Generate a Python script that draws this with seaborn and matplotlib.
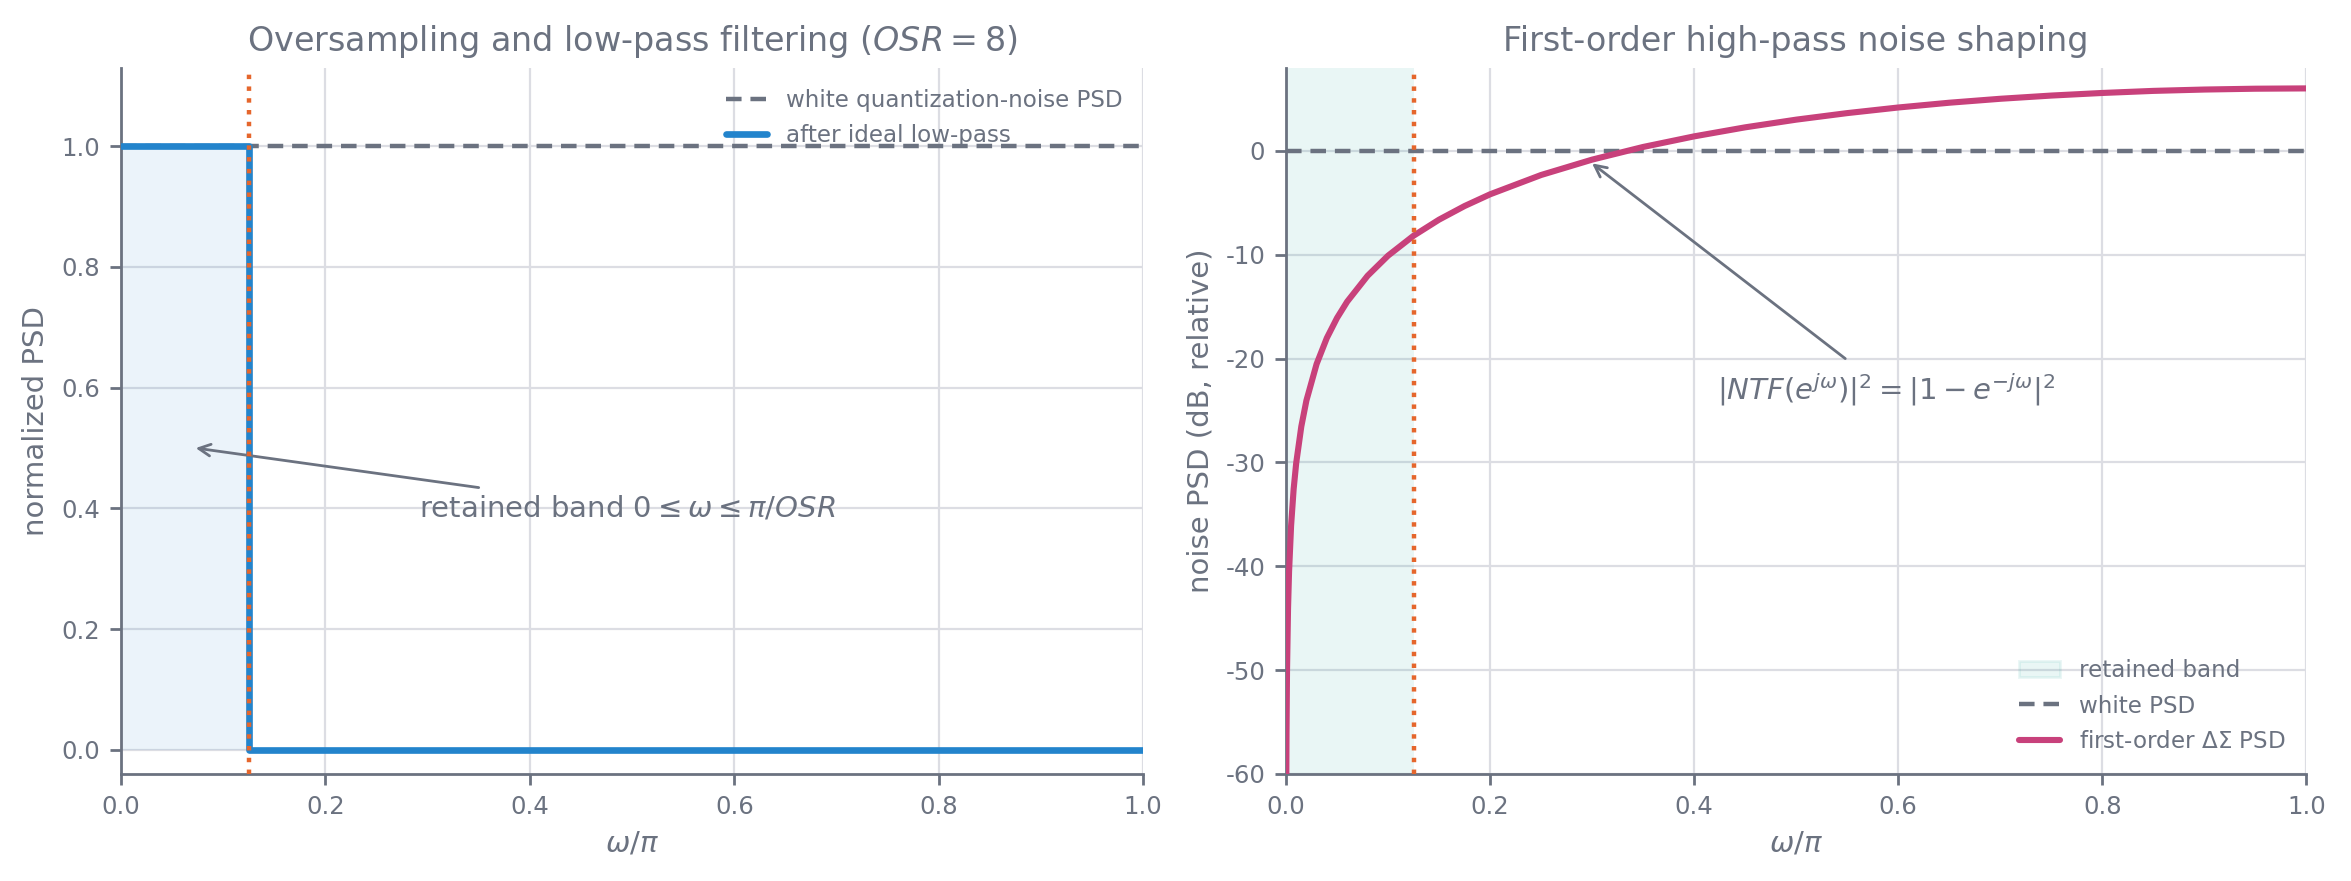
import numpy as np
import pandas as pd
import matplotlib
matplotlib.use("Agg")
import matplotlib.pyplot as plt
import seaborn as sns
from matplotlib.patches import Patch
from matplotlib.lines import Line2D

# ---------------- data ----------------
osr = 8
cutoff = 1.0 / osr  # omega/pi

# left panel: ideal low-pass output (step)
lp_x = [0.0, 0.125, 0.125, 1.0]
lp_y = [1.0, 1.0, 0.0, 0.0]
white_x = [0.0, 1.0]
white_y = [1.0, 1.0]

# right panel: first-order noise shaping, dB values
ntf_x = [0.0003, 0.0005, 0.001, 0.002, 0.003, 0.005, 0.0075, 0.01, 0.015,
         0.02, 0.03, 0.04, 0.05, 0.06, 0.08, 0.10, 0.125, 0.15, 0.175, 0.2,
         0.25, 0.3, 0.35, 0.4, 0.45, 0.5, 0.55, 0.6, 0.65, 0.7, 0.75, 0.8,
         0.85, 0.9, 0.95, 1.0]
ntf_db = [-60.51, -56.08, -50.06, -44.04, -40.51, -36.08, -32.56, -30.06, -26.54,
          -24.04, -20.52, -18.02, -16.09, -14.51, -12.02, -10.09, -8.17, -6.62, -5.31, -4.18,
          -2.32, -0.84, 0.38, 1.40, 2.27, 3.01, 3.64, 4.18, 4.64, 5.02, 5.33, 5.58,
          5.78, 5.91, 5.99, 6.02]
white_db = [0.0, 0.0]

left_yticks = [0.0, 0.2, 0.4, 0.6, 0.8, 1.0]
right_yticks = [-60, -50, -40, -30, -20, -10, 0]
xticks = [0.0, 0.2, 0.4, 0.6, 0.8, 1.0]

# ---------------- style ----------------
TXT = "#6b7280"
GRID = "#dcdde3"
BLUE = "#2384cc"
PINK = "#c8417b"
ORANGE = "#e5662c"
DASH = "#6b7280"

sns.set_theme(style="whitegrid")
plt.rcParams.update({
    "font.family": ["DejaVu Sans"],
    "axes.unicode_minus": False,
    "text.color": TXT,
    "axes.labelcolor": TXT,
    "xtick.color": TXT,
    "ytick.color": TXT,
    "axes.edgecolor": TXT,
    "grid.color": GRID,
    "grid.linewidth": 0.8,
    "xtick.bottom": True,
    "ytick.left": True,
    "xtick.major.size": 4,
    "ytick.major.size": 4,
    "xtick.major.width": 1.0,
    "ytick.major.width": 1.0,
    "axes.linewidth": 1.0,
    "mathtext.fontset": "dejavusans",
})

fig = plt.figure(figsize=(11.755, 4.405), dpi=200)
ax1 = fig.add_axes([0.0515, 0.1215, 0.4347, 0.8015])
ax2 = fig.add_axes([0.547, 0.1215, 0.434, 0.8015])

dash_style = (0, (3.5, 2))

# ---------------- left panel ----------------
ax1.fill_between([0.0, cutoff], [0, 0], [1, 1], color=BLUE, alpha=0.09, lw=0, zorder=1)
sns.lineplot(x=white_x, y=white_y, ax=ax1, color=DASH, lw=1.6, ls=dash_style,
             label="white quantization-noise PSD", zorder=2)
sns.lineplot(x=lp_x, y=lp_y, ax=ax1, color=BLUE, lw=2.4, sort=False, estimator=None,
             label="after ideal low-pass", zorder=3)
ax1.axvline(cutoff, color=ORANGE, lw=1.6, ls=":", zorder=4)
ax1.annotate(r"retained band $0 \leq \omega \leq \pi/OSR$", xy=(0.073, 0.5),
             xytext=(0.292, 0.40), fontsize=10.5, color=TXT, va="center", ha="left",
             arrowprops=dict(arrowstyle="->", color=TXT, lw=1.0, shrinkA=2, shrinkB=0))
ax1.set_xlim(0, 1)
ax1.set_ylim(-0.04, 1.13)
ax1.set_xticks(xticks)
ax1.set_yticks(left_yticks)
ax1.set_title(r"Oversampling and low-pass filtering ($OSR = 8$)", fontsize=12, color=TXT)
ax1.set_xlabel(r"$\omega/\pi$", fontsize=10.5)
ax1.set_ylabel("normalized PSD", fontsize=10.5)
ax1.tick_params(labelsize=8.8)
ax1.legend(loc="upper right", frameon=False, fontsize=8.3, labelcolor=TXT,
           handlelength=1.8, handletextpad=0.8, labelspacing=0.55)

# ---------------- right panel ----------------
ax2.axvspan(0.0, cutoff, facecolor="#2aa9a0", alpha=0.1, edgecolor="none", zorder=1)
sns.lineplot(x=white_x, y=white_db, ax=ax2, color=DASH, lw=1.6, ls=dash_style, zorder=2)
sns.lineplot(x=ntf_x, y=ntf_db, ax=ax2, color=PINK, lw=2.2, sort=False, estimator=None, zorder=3)
ax2.axvline(cutoff, color=ORANGE, lw=1.6, ls=":", zorder=4)
ax2.annotate(r"$|NTF(e^{j\omega})|^2 = |1 - e^{-j\omega}|^2$", xy=(0.3, -1.2),
             xytext=(0.422, -23.0), fontsize=10.5, color=TXT, va="center", ha="left",
             arrowprops=dict(arrowstyle="->", color=TXT, lw=1.0, shrinkA=4, shrinkB=0))
ax2.set_xlim(0, 1)
ax2.set_ylim(-60, 8)
ax2.set_xticks(xticks)
ax2.set_yticks(right_yticks)
ax2.set_title("First-order high-pass noise shaping", fontsize=12, color=TXT)
ax2.set_xlabel(r"$\omega/\pi$", fontsize=10.5)
ax2.set_ylabel("noise PSD (dB, relative)", fontsize=10.5)
ax2.tick_params(labelsize=8.8)
handles = [
    Patch(facecolor="#2aa9a0", alpha=0.1, edgecolor="#2aa9a0", label="retained band"),
    Line2D([], [], color=DASH, lw=1.6, ls=dash_style, label="white PSD"),
    Line2D([], [], color=PINK, lw=2.2, label=r"first-order $\Delta\Sigma$ PSD"),
]
ax2.legend(handles=handles, loc="lower right", frameon=False, fontsize=8.3, labelcolor=TXT,
           handlelength=1.8, handletextpad=0.8, labelspacing=0.55)

for ax in (ax1, ax2):
    sns.despine(ax=ax)
    ax.grid(True, color=GRID, lw=0.8)
    ax.set_axisbelow(True)

fig.savefig("out.png", dpi=200)
